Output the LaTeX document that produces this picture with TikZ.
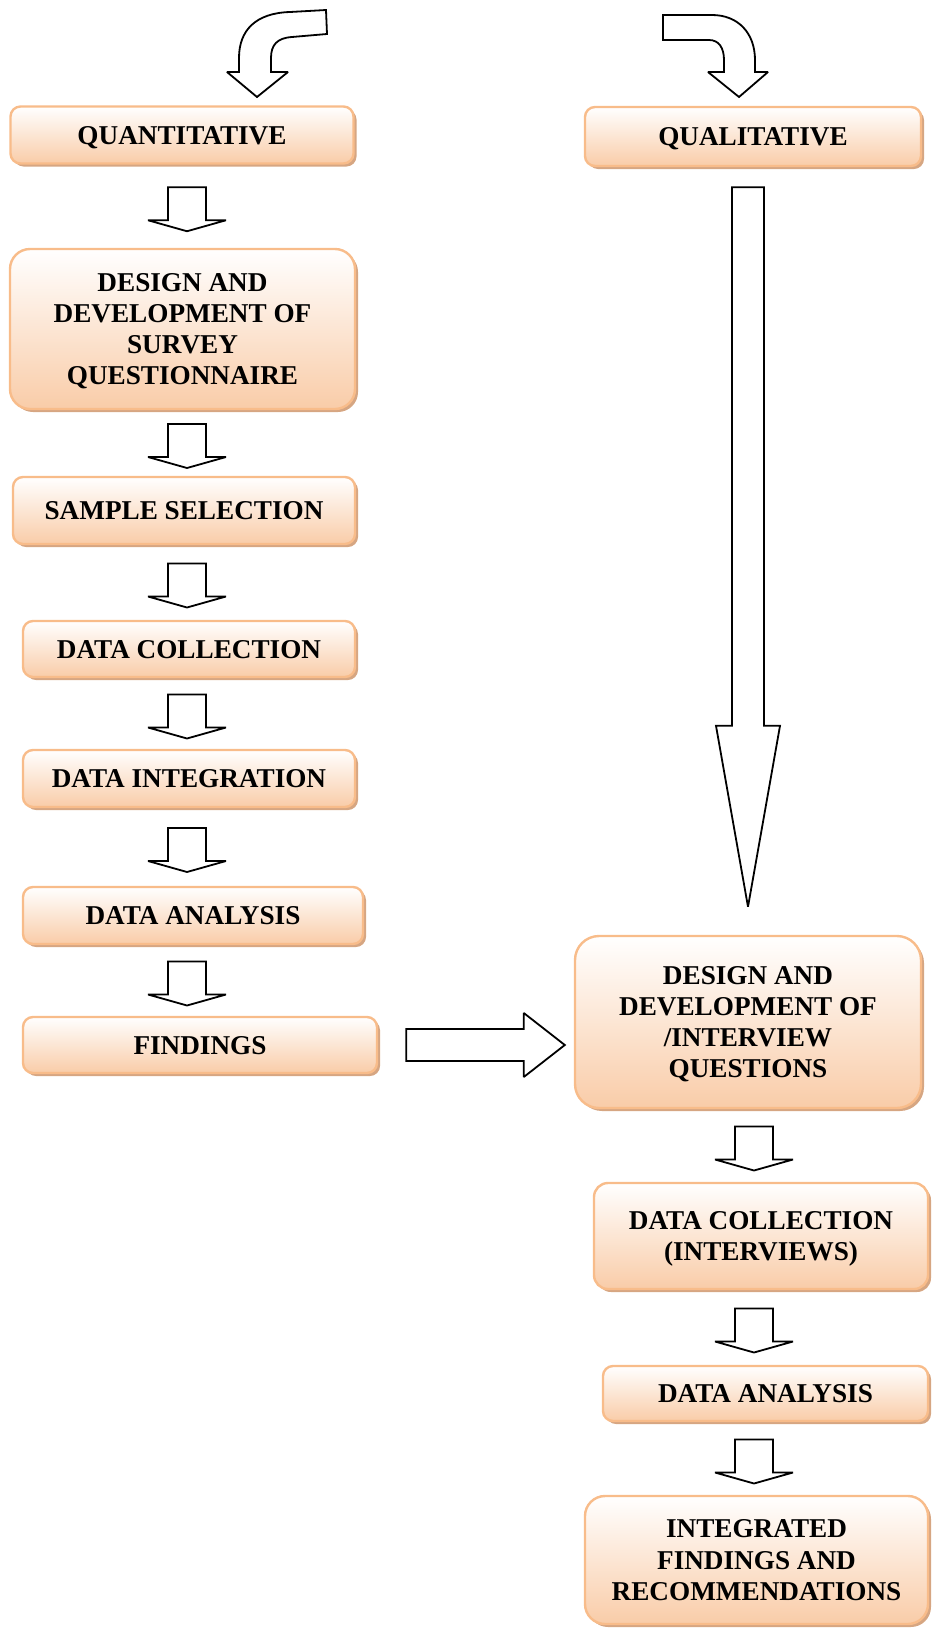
\documentclass[tikz,border=0pt]{standalone}
\usepackage{fontspec}
\setmainfont{Liberation Serif}
\usepackage{tikz}
\usetikzlibrary{calc,shadows}

\definecolor{boxedge}{RGB}{248,188,138}
\definecolor{boxfill}{RGB}{249,204,168}
\definecolor{boxshade}{RGB}{214,166,130}

% block arrow pointing down, between two nodes on a column
\newcommand{\downblock}[3]{%
  \begin{scope}[shift={($(#1 |- #2.south)!0.5!(#1 |- #3.north)$)}]
    \draw[blockline] (-19,-19) -- (19,-19) -- (19,14) -- (39,14) -- (0,25)
      -- (-39,14) -- (-19,14) -- cycle;
  \end{scope}}

\begin{document}
\begin{tikzpicture}[x=0.5pt,y=-0.5pt,
  stage/.style={rounded corners=5pt, draw=boxedge, line width=1.2pt,
    top color=white, bottom color=boxfill,
    drop shadow={shadow xshift=1.5pt, shadow yshift=-1.5pt, fill=boxshade, opacity=1},
    font=\bfseries\fontsize{13.6}{15.6}\selectfont, align=center, inner sep=0pt,
    text depth=0pt},
  bigstage/.style={stage, rounded corners=10pt},
  blockline/.style={draw=black, fill=white, line width=0.9pt, miter limit=2}]
\useasboundingbox (0,0) rectangle (932,1628);

\coordinate (lcol) at (187,0);
\coordinate (rcol) at (754,0);

% quantitative strand
\node[stage, minimum width=171.5pt, minimum height=28.5pt] (q1) at (182,135) {QUANTITATIVE};
\node[bigstage, minimum width=172.5pt, minimum height=80pt] (q2) at (182.5,329)
  {DESIGN AND\\DEVELOPMENT OF\\SURVEY\\QUESTIONNAIRE};
\node[stage, minimum width=171pt, minimum height=33.5pt] (q3) at (184,510.5) {SAMPLE SELECTION};
\node[stage, minimum width=166pt, minimum height=28pt] (q4) at (189,649) {DATA COLLECTION};
\node[stage, minimum width=166pt, minimum height=28.5pt] (q5) at (189,778.5) {DATA INTEGRATION};
\node[stage, minimum width=170pt, minimum height=28.5pt] (q6) at (193,915.5) {DATA ANALYSIS};
\node[stage, minimum width=177pt, minimum height=28pt] (q7) at (200,1045) {FINDINGS};

% qualitative strand
\node[stage, minimum width=168pt, minimum height=29.5pt] (r1) at (753,136.5) {QUALITATIVE};
\node[bigstage, rounded corners=12pt, minimum width=173pt, minimum height=86pt] (r2) at (748,1022)
  {DESIGN AND\\DEVELOPMENT OF\\/INTERVIEW\\QUESTIONS};
\node[stage, rounded corners=7pt, minimum width=167pt, minimum height=53pt] (r3) at (761,1236)
  {DATA COLLECTION\\(INTERVIEWS)};
\node[stage, minimum width=162.5pt, minimum height=27.5pt] (r4) at (765.5,1393.5) {DATA ANALYSIS};
\node[bigstage, minimum width=171.5pt, minimum height=64pt] (r5) at (756.5,1560)
  {INTEGRATED\\FINDINGS AND\\RECOMMENDATIONS};

% curved entry arrows
\draw[blockline] (326,10) -- (290,12) .. controls (256,13) and (239,30) .. (239,58)
  -- (239,72) -- (227,72) -- (257,97) -- (288,72) -- (271,72) -- (271,58)
  .. controls (271,45) and (277,38) .. (292,37) -- (327,34) -- cycle;
\draw[blockline] (663,15) -- (712,15) .. controls (738,15) and (755,33) .. (755,60)
  -- (755,72) -- (768,72) -- (739,97) -- (708,72) -- (724,72) -- (724,60)
  .. controls (724,48) and (719,40) .. (709,40) -- (663,40) -- cycle;

% small arrows
\downblock{lcol}{q1}{q2}
\downblock{lcol}{q2}{q3}
\downblock{lcol}{q3}{q4}
\downblock{lcol}{q4}{q5}
\downblock{lcol}{q5}{q6}
\downblock{lcol}{q6}{q7}
\downblock{rcol}{r2}{r3}
\downblock{rcol}{r3}{r4}
\downblock{rcol}{r4}{r5}

% long arrow down the qualitative side
\draw[blockline] ($(r1.south -| r2.north)+(-16,20)$) -- ($(r1.south -| r2.north)+(16,20)$)
  -- ($(r2.north)+(16,-209)$) -- ($(r2.north)+(32,-209)$) -- ($(r2.north)+(0,-28)$)
  -- ($(r2.north)+(-32,-209)$) -- ($(r2.north)+(-16,-209)$) -- cycle;

% findings to interview design
\draw[blockline] ($(q7.east)+(28,-16)$) -- ($(q7.east -| r2.west)+(-50,-16)$)
  -- ($(q7.east -| r2.west)+(-50,-32)$) -- ($(q7.east -| r2.west)+(-9,0)$)
  -- ($(q7.east -| r2.west)+(-50,32)$) -- ($(q7.east -| r2.west)+(-50,16)$)
  -- ($(q7.east)+(28,16)$) -- cycle;
\end{tikzpicture}
\end{document}
